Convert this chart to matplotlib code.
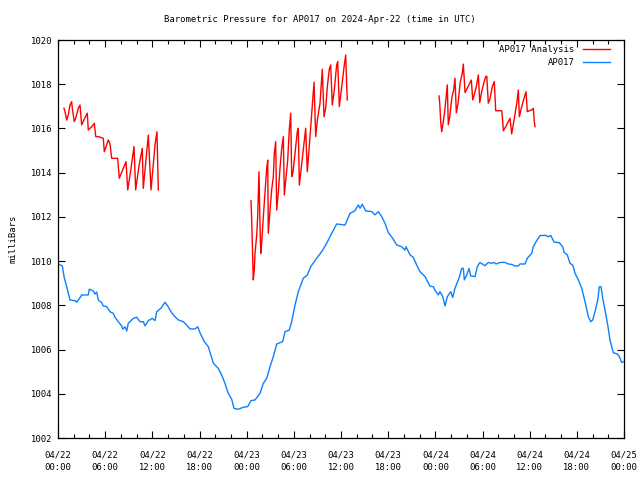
import numpy as np
import matplotlib
matplotlib.use("Agg")
import matplotlib.pyplot as plt
from matplotlib.ticker import MultipleLocator

# ---- data (hours since 2024-04-22 00:00 UTC) ----
obs_hours = [0.0, 0.55, 0.80, 1.11, 1.53, 2.16, 2.38, 2.80, 3.01, 3.85, 3.98, 4.49, 4.71, 4.92,
             5.13, 5.56, 5.76, 6.20, 6.61, 7.03, 7.25, 7.67, 8.10, 8.23, 8.52, 8.74, 8.94, 9.58,
             10.01, 10.43, 10.85, 11.07, 11.49, 12.00, 12.34, 12.56, 13.10, 13.61, 13.96, 14.37,
             14.79, 15.30, 15.94, 16.37, 16.79, 17.43, 17.77, 18.06, 18.61, 19.12, 19.76, 20.39,
             20.82, 21.24, 21.66, 22.10, 22.39, 22.94, 23.57, 24.13, 24.55, 25.06, 25.70, 26.12,
             26.55, 26.97, 27.39, 27.82, 28.58, 28.88, 29.42, 29.73, 30.15, 30.57, 31.20, 31.71,
             32.15, 32.91, 33.55, 34.18, 34.82, 35.45, 36.51, 37.15, 37.78, 38.20, 38.42, 38.71,
             39.14, 39.91, 40.33, 40.75, 41.18, 41.60, 42.02, 42.58, 43.09, 43.72, 44.14, 44.27,
             44.78, 45.20, 45.63, 46.05, 46.69, 47.32, 47.74, 47.96, 48.38, 48.59, 48.94, 49.23,
             49.52, 49.96, 50.21, 50.50, 51.05, 51.36, 51.56, 51.69, 51.99, 52.29, 52.50, 53.05,
             53.34, 53.68, 54.32, 54.74, 55.17, 55.46, 55.72, 56.23, 56.86, 57.28, 57.71, 58.14,
             58.56, 58.77, 59.41, 59.70, 60.26, 60.46, 60.90, 61.32, 62.08, 62.37, 62.68, 63.10,
             63.77, 64.20, 64.37, 64.79, 65.13, 65.48, 65.77, 66.19, 66.62, 67.04, 67.46, 67.77,
             68.02, 68.31, 68.66, 68.86, 69.08, 69.29, 69.58, 69.93, 70.22, 70.64, 71.15, 71.41,
             71.71, 71.90]
obs_mb = [1009.87, 1009.78, 1009.24, 1008.84, 1008.24, 1008.21, 1008.14, 1008.35, 1008.47, 1008.47,
          1008.73, 1008.65, 1008.51, 1008.60, 1008.24, 1008.12, 1007.97, 1007.94, 1007.71, 1007.64,
          1007.46, 1007.26, 1007.07, 1006.92, 1007.03, 1006.84, 1007.19, 1007.41, 1007.46, 1007.26,
          1007.26, 1007.07, 1007.31, 1007.41, 1007.31, 1007.71, 1007.87, 1008.14, 1007.97, 1007.71,
          1007.52, 1007.34, 1007.26, 1007.11, 1006.93, 1006.93, 1007.03, 1006.76, 1006.36, 1006.13,
          1005.38, 1005.15, 1004.85, 1004.47, 1004.02, 1003.75, 1003.34, 1003.30, 1003.39, 1003.42,
          1003.69, 1003.72, 1004.02, 1004.47, 1004.70, 1005.22, 1005.68, 1006.25, 1006.36, 1006.81,
          1006.88, 1007.26, 1008.01, 1008.62, 1009.22, 1009.37, 1009.75, 1010.13, 1010.43, 1010.81,
          1011.26, 1011.68, 1011.63, 1012.16, 1012.28, 1012.54, 1012.39, 1012.57, 1012.27, 1012.24,
          1012.09, 1012.24, 1012.01, 1011.71, 1011.29, 1011.03, 1010.73, 1010.65, 1010.50, 1010.65,
          1010.28, 1010.17, 1009.82, 1009.52, 1009.30, 1008.87, 1008.84, 1008.68, 1008.47, 1008.62,
          1008.40, 1007.97, 1008.39, 1008.62, 1008.36, 1008.77, 1009.27, 1009.67, 1009.67, 1009.15,
          1009.37, 1009.67, 1009.33, 1009.30, 1009.75, 1009.94, 1009.79, 1009.94, 1009.90, 1009.94,
          1009.87, 1009.94, 1009.94, 1009.87, 1009.85, 1009.78, 1009.78, 1009.87, 1009.87, 1010.13,
          1010.35, 1010.65, 1010.93, 1011.16, 1011.16, 1011.10, 1011.16, 1010.86, 1010.83, 1010.65,
          1010.40, 1010.28, 1009.90, 1009.82, 1009.45, 1009.15, 1008.77, 1008.17, 1007.49, 1007.26,
          1007.34, 1007.71, 1008.24, 1008.84, 1008.84, 1008.32, 1007.79, 1007.11, 1006.43, 1005.86,
          1005.80, 1005.68, 1005.41, 1005.45]

ana1_hours = [0.76, 0.89, 1.11, 1.31, 1.53, 1.74, 1.82, 2.07, 2.25, 2.58, 2.80, 3.01, 3.31, 3.73,
              3.85, 4.29, 4.62, 4.80, 5.13, 5.56, 5.76, 5.89, 6.40, 6.61, 6.83, 7.59, 7.80, 8.65,
              8.87, 9.29, 9.67, 9.88, 10.30, 10.72, 10.85, 11.49, 11.83, 12.34, 12.59, 12.76]
ana1_mb = [1016.91, 1016.76, 1016.38, 1016.61, 1017.06, 1017.21, 1016.91, 1016.31, 1016.46, 1016.91,
           1017.06, 1016.16, 1016.40, 1016.69, 1015.93, 1016.08, 1016.23, 1015.63, 1015.63, 1015.58,
           1015.55, 1014.95, 1015.48, 1015.30, 1014.65, 1014.65, 1013.75, 1014.50, 1013.22, 1014.20,
           1015.18, 1013.22, 1014.30, 1015.10, 1013.29, 1015.70, 1013.22, 1015.25, 1015.85, 1013.22]

ana2_hours = [24.55, 24.64, 24.77, 24.84, 24.97, 25.06, 25.28, 25.40, 25.57, 25.70, 25.79, 25.91,
              26.12, 26.33, 26.55, 26.68, 26.75, 26.97, 27.18, 27.39, 27.52, 27.69, 27.82, 28.02,
              28.24, 28.46, 28.66, 28.79, 28.97, 29.22, 29.42, 29.60, 29.73, 29.89, 30.15, 30.44,
              30.57, 30.70, 31.01, 31.20, 31.51, 31.71, 31.93, 32.27, 32.57, 32.78, 32.99, 33.33,
              33.62, 33.84, 34.05, 34.26, 34.51, 34.69, 34.89, 35.15, 35.45, 35.58, 35.79, 36.09,
              36.42, 36.60, 36.73, 36.80]
ana2_mb = [1012.73, 1011.86, 1010.05, 1009.15, 1009.60, 1010.35, 1011.18, 1012.01, 1014.04, 1011.56,
           1010.35, 1010.81, 1012.01, 1013.07, 1014.20, 1014.57, 1011.26, 1012.31, 1013.22, 1013.82,
           1014.88, 1015.40, 1012.31, 1013.07, 1014.20, 1015.10, 1015.63, 1012.99, 1013.67, 1014.57,
           1015.93, 1016.69, 1013.82, 1014.00, 1014.88, 1015.85, 1016.01, 1013.44, 1014.42, 1015.03,
           1016.01, 1014.04, 1015.03, 1016.69, 1018.09, 1015.63, 1016.38, 1017.14, 1018.68, 1016.53,
           1016.91, 1017.89, 1018.68, 1018.87, 1017.06, 1017.74, 1018.87, 1019.02, 1016.99, 1017.89,
           1018.87, 1019.32, 1017.89, 1017.29]

ana3_hours = [48.47, 48.56, 48.68, 48.81, 48.98, 49.19, 49.40, 49.52, 49.65, 49.83, 50.12, 50.34,
              50.50, 50.67, 50.89, 51.18, 51.43, 51.56, 51.78, 52.16, 52.58, 52.76, 53.01, 53.21,
              53.47, 53.65, 53.85, 54.15, 54.41, 54.54, 54.74, 54.96, 55.25, 55.50, 55.68, 56.44,
              56.57, 56.65, 56.95, 57.50, 57.71, 58.05, 58.36, 58.56, 58.69, 58.99, 59.28, 59.54,
              59.70, 60.26, 60.46, 60.59, 60.68]
ana3_mb = [1017.47, 1017.14, 1016.31, 1015.85, 1016.23, 1016.76, 1017.51, 1017.97, 1016.16, 1016.53,
           1017.44, 1017.74, 1018.27, 1016.71, 1017.14, 1018.12, 1018.49, 1018.91, 1017.62, 1017.89,
           1018.19, 1017.29, 1017.59, 1017.89, 1018.42, 1017.17, 1017.59, 1018.04, 1018.34, 1018.37,
           1017.14, 1017.36, 1017.89, 1018.12, 1016.80, 1016.80, 1016.34, 1015.89, 1016.08, 1016.46,
           1015.75, 1016.46, 1017.14, 1017.74, 1016.53, 1016.99, 1017.36, 1017.66, 1016.76, 1016.84,
           1016.91, 1016.31, 1016.08]

tick_labels = ["04/22\n00:00", "04/22\n06:00", "04/22\n12:00", "04/22\n18:00",
               "04/23\n00:00", "04/23\n06:00", "04/23\n12:00", "04/23\n18:00",
               "04/24\n00:00", "04/24\n06:00", "04/24\n12:00", "04/24\n18:00",
               "04/25\n00:00"]
y_ticks = [1002, 1004, 1006, 1008, 1010, 1012, 1014, 1016, 1018, 1020]

plt.rcParams['font.family'] = ['DejaVu Sans Mono']
fs = 6.4

fig = plt.figure(figsize=(6.4, 4.8), dpi=100)
ax = fig.add_axes([58/640, 1 - 438/480, (624 - 58)/640, (438 - 40)/480])

red = "#ff0000"
blue = "#0a80ff"

ana_h = ana1_hours + [np.nan] + ana2_hours + [np.nan] + ana3_hours
ana_v = ana1_mb + [np.nan] + ana2_mb + [np.nan] + ana3_mb
ax.plot(ana_h, ana_v, color=red, lw=1.0, label="AP017 Analysis")
ax.plot(obs_hours, obs_mb, color=blue, lw=1.0, label="AP017")

ax.set_xlim(0, 72)
ax.set_ylim(1002, 1020)
ax.set_xticks(np.arange(0, 73, 6))
ax.set_xticklabels(tick_labels, fontsize=fs, linespacing=1.5)
ax.xaxis.set_minor_locator(MultipleLocator(2))
ax.set_yticks(y_ticks)
ax.set_yticklabels([str(v) for v in y_ticks], fontsize=fs)
ax.tick_params(which='both', direction='in', top=True, right=True, width=0.8, color='black')
ax.tick_params(which='major', length=5)
ax.tick_params(axis='x', which='major', pad=9)
ax.tick_params(axis='y', which='major', pad=4)
ax.tick_params(which='minor', length=3)
for s in ax.spines.values():
    s.set_linewidth(0.9)

ax.set_ylabel("milliBars", fontsize=fs, labelpad=10)
fig.text(0.5, 1 - 19/480, "Barometric Pressure for AP017 on 2024-Apr-22 (time in UTC)",
         fontsize=fs, ha='center', va='center')

leg = ax.legend(loc='upper right', frameon=False, fontsize=fs, markerfirst=False,
                handlelength=3.1, handletextpad=0.9, borderaxespad=0.35, labelspacing=0.5,
                borderpad=0.2)
leg.set_bbox_to_anchor((1 - 9/566, 1.0), transform=ax.transAxes)
for t in leg.get_texts():
    t.set_ha('right')

fig.savefig("out.png", dpi=100)
